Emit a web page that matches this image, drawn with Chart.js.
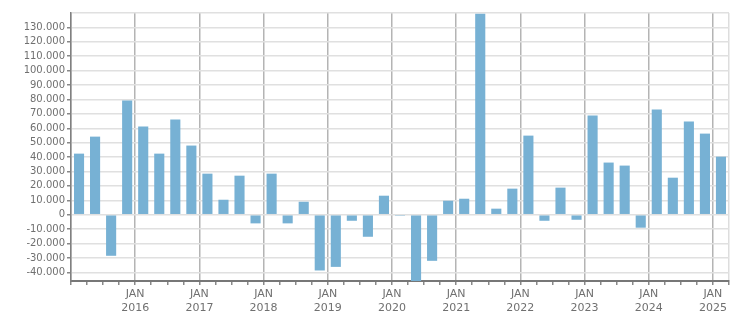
<!DOCTYPE html>
<html lang="de">
  <head>
    <meta charset="utf-8" />
    <style>
      html, body { margin: 0; padding: 0; background: #fff; }
      .chart { width: 751px; height: 313px; }
    </style>
  </head>
  <body>
    <div class="chart">
      <canvas id="myChart"></canvas>
    </div>

    <script src="https://cdn.jsdelivr.net/npm/chart.js@4/dist/chart.umd.min.js"></script>
    <script>
      // quarterly values, Q1 2015 .. Q1 2025
      var quarters = [
        "2015-Q1", "2015-Q2", "2015-Q3", "2015-Q4",
        "2016-Q1", "2016-Q2", "2016-Q3", "2016-Q4",
        "2017-Q1", "2017-Q2", "2017-Q3", "2017-Q4",
        "2018-Q1", "2018-Q2", "2018-Q3", "2018-Q4",
        "2019-Q1", "2019-Q2", "2019-Q3", "2019-Q4",
        "2020-Q1", "2020-Q2", "2020-Q3", "2020-Q4",
        "2021-Q1", "2021-Q2", "2021-Q3", "2021-Q4",
        "2022-Q1", "2022-Q2", "2022-Q3", "2022-Q4",
        "2023-Q1", "2023-Q2", "2023-Q3", "2023-Q4",
        "2024-Q1", "2024-Q2", "2024-Q3", "2024-Q4",
        "2025-Q1",
      ];
      var values = [
        42400, 54200, -28500, 79300,
        61200, 42400, 66000, 48000,
        28500, 10400, 27100, -6000,
        28500, -6000, 9000, -38700,
        -36200, -4200, -15300, 13200,
        -800, -47000, -32000, 9700,
        11100, 139500, 4200, 18100,
        54900, -4200, 18800, -3500,
        68800, 36200, 34100, -9000,
        73000, 25700, 64700, 56300,
        40300,
      ];
      var yTicks = [-40000, -30000, -20000, -10000, 0, 10000, 20000, 30000, 40000,
        50000, 60000, 70000, 80000, 90000, 100000, 110000, 120000, 130000, 140000];
      var yMin = -46000;
      var yMax = 140000;
      var xStart = 2015;
      var xEnd = 2025.25;

      function quarterPos(q) {
        var parts = q.split("-Q");
        return Number(parts[0]) + (Number(parts[1]) - 1) / 4 + 0.125;
      }

      function fmt(v) {
        var s = String(Math.abs(v)).replace(/\B(?=(\d{3})+(?!\d))/g, ".");
        return (v < 0 ? "-" : "") + s;
      }

      var points = quarters.map(function (q, i) {
        return { x: quarterPos(q), y: values[i] };
      });

      var xTickValues = [];
      for (var t = xStart; t <= xEnd + 1e-9; t += 0.25) xTickValues.push(t);

      Chart.defaults.font.family = "'DejaVu Sans', sans-serif";
      Chart.defaults.font.size = 10;
      Chart.defaults.color = "#707070";

      new Chart(document.getElementById("myChart"), {
        type: "bar",
        data: {
          datasets: [
            {
              data: points,
              backgroundColor: "#77b1d4",
              borderWidth: 0,
              categoryPercentage: 1,
              barPercentage: 0.63,
            },
          ],
        },
        options: {
          responsive: true,
          maintainAspectRatio: false,
          animation: false,
          layout: { padding: { left: 0, right: 22, top: 13, bottom: 0 } },
          plugins: { legend: { display: false }, tooltip: { enabled: false } },
          scales: {
            x: {
              type: "linear",
              offset: false,
              min: xStart,
              max: xEnd,
              afterBuildTicks: function (scale) {
                scale.ticks = xTickValues.map(function (v) { return { value: v }; });
              },
              afterFit: function (scale) { scale.height = 32; },
              border: { color: "#777777", width: 2 },
              grid: {
                offset: false,
                drawTicks: true,
                tickLength: 4,
                tickColor: "#888888",
                color: function (ctx) {
                  var v = ctx.tick && ctx.tick.value;
                  if (v === xEnd) return "#dddddd";
                  return Number.isInteger(v) ? "#b4b4b4" : "rgba(0,0,0,0)";
                },
                lineWidth: 1.5,
              },
              ticks: {
                autoSkip: false,
                maxRotation: 0,
                padding: 3,
                font: { size: 11 },
                callback: function (v) {
                  if (Number.isInteger(v) && v > xStart) return ["JAN", String(v)];
                  return "";
                },
              },
            },
            y: {
              min: yMin,
              max: yMax,
              afterBuildTicks: function (scale) {
                scale.ticks = yTicks.map(function (v) { return { value: v }; });
              },
              afterFit: function (scale) { scale.width = 71; },
              border: { color: "#808080", width: 1.5 },
              grid: {
                color: "#e0e0e0",
                lineWidth: 1.5,
                tickLength: 4,
                tickColor: function (ctx) {
                  return ctx.tick && ctx.tick.value === yMax ? "rgba(0,0,0,0)" : "#888888";
                },
              },
              ticks: {
                autoSkip: false,
                padding: 2,
                font: { size: 10 },
                callback: function (v) {
                  return v === yMax ? "" : fmt(v);
                },
              },
            },
          },
        },
      });
    </script>
  </body>
</html>
